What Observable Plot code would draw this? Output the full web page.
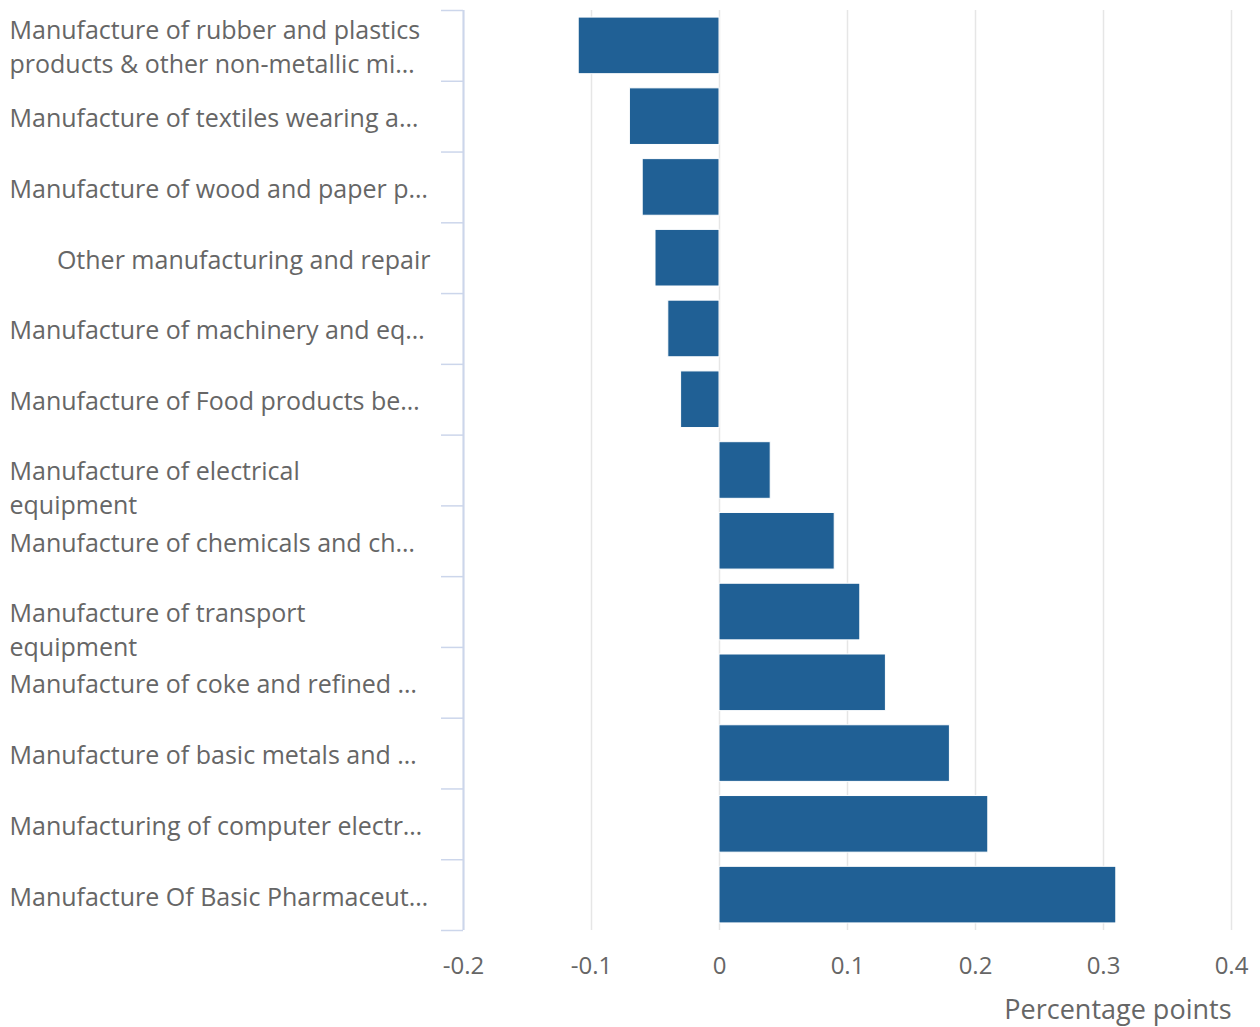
<!DOCTYPE html>
<html>
<head>
<meta charset="utf-8">
<script src="https://cdn.jsdelivr.net/npm/d3@7"></script>
<script src="https://cdn.jsdelivr.net/npm/@observablehq/plot@0.6"></script>
<style>
  html, body { margin: 0; padding: 0; background: #fff; }
  #chart svg { display: block; }
</style>
</head>
<body>
<div id="chart"></div>
<script>
const categories = [
  "Manufacture of rubber and plastics\nproducts & other non-metallic mi…",
  "Manufacture of textiles wearing a…",
  "Manufacture of wood and paper p…",
  "Other manufacturing and repair",
  "Manufacture of machinery and eq…",
  "Manufacture of Food products be…",
  "Manufacture of electrical\nequipment",
  "Manufacture of chemicals and ch…",
  "Manufacture of transport\nequipment",
  "Manufacture of coke and refined …",
  "Manufacture of basic metals and …",
  "Manufacturing of computer electr…",
  "Manufacture Of Basic Pharmaceut…"
];
const values = [-0.11, -0.07, -0.06, -0.05, -0.04, -0.03, 0.04, 0.09, 0.11, 0.13, 0.18, 0.21, 0.31];
const xTicks = [-0.2, -0.1, 0, 0.1, 0.2, 0.3, 0.4];
const xLabel = "Percentage points";

const data = categories.map((label, i) => ({label, value: values[i]}));

const W = 1260, H = 1027;
const mL = 463, mR = 29, mT = 10, mB = 97;
const step = (H - mT - mB) / categories.length;
const FS = 25;
const LH = 34;
const axisColor = "#ccd6eb";
const textColor = "#666666";

const truncated = d => d.label.includes("…");
const multi = d => d.label.includes("\n");

const chart = Plot.plot({
  width: W,
  height: H,
  marginLeft: mL,
  marginRight: mR,
  marginTop: mT,
  marginBottom: mB,
  style: {fontFamily: "'Open Sans', sans-serif", fontSize: FS + "px", color: textColor, background: "#fff"},
  x: {domain: [xTicks[0], xTicks[xTicks.length - 1]]},
  y: {domain: categories, paddingInner: 0.2, paddingOuter: 0.1, round: false, axis: null},
  marks: [
    Plot.gridX(xTicks, {stroke: "#e6e6e6", strokeOpacity: 1, strokeWidth: 1.5}),
    Plot.barX(data, {x: "value", y: "label", fill: "#206095", stroke: "#ffffff", strokeWidth: 1}),
    Plot.ruleX([xTicks[0]], {stroke: axisColor, strokeWidth: 2}),
    Plot.axisY({anchor: "left", ticks: categories, tickSize: 22, tickFormat: () => "", label: null, stroke: axisColor, strokeWidth: 1.5, strokeOpacity: 1, dy: -step / 2}),
    Plot.axisY({anchor: "left", ticks: [categories[categories.length - 1]], tickSize: 22, tickFormat: () => "", label: null, stroke: axisColor, strokeWidth: 1.5, strokeOpacity: 1, dy: step / 2}),
    // left-aligned labels, block centred on the band (truncated labels)
    Plot.text(data.filter(d => truncated(d)), {
      y: "label", text: "label", frameAnchor: "left", textAnchor: "start",
      dx: 9 - mL, dy: -0.5, lineAnchor: "middle", lineHeight: LH / FS,
      fill: textColor, fontSize: FS
    }),
    // wrapped labels: first line on the band centre
    Plot.text(data.filter(d => multi(d) && !truncated(d)), {
      y: "label", text: "label", frameAnchor: "left", textAnchor: "start",
      dx: 9 - mL, dy: LH / 2 - 1, lineAnchor: "middle", lineHeight: LH / FS,
      fill: textColor, fontSize: FS
    }),
    // right-aligned short labels
    Plot.text(data.filter(d => !truncated(d) && !multi(d)), {
      y: "label", text: "label", frameAnchor: "left", textAnchor: "end",
      dx: -33, dy: 3, lineAnchor: "middle", fill: textColor, fontSize: FS
    }),
    Plot.axisX({
      ticks: xTicks, anchor: "bottom", tickSize: 0, tickPadding: 26, tickFormat: d => String(d),
      fontSize: 24, fill: textColor, label: null
    }),
    Plot.text([xLabel], {
      frameAnchor: "bottom-right", textAnchor: "end", lineAnchor: "bottom",
      dy: 88, fill: textColor, fontSize: 27
    })
  ]
});
document.getElementById("chart").append(chart);
</script>
</body>
</html>
